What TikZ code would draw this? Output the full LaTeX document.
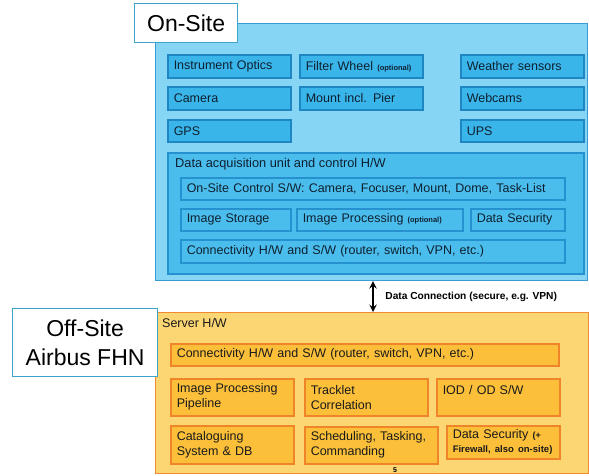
\documentclass[tikz,border=0pt]{standalone}
\usepackage{fontspec}
\setmainfont{Liberation Sans}
\usetikzlibrary{arrows, positioning}

\definecolor{sitefill}{HTML}{86D5F5}
\definecolor{siteedge}{HTML}{3A9AD6}
\definecolor{unitfill}{HTML}{3AB5EA}
\definecolor{unitedge}{HTML}{1E86C2}
\definecolor{daqfill}{HTML}{4BBDED}
\definecolor{daqedge}{HTML}{2591CE}
\definecolor{unittext}{HTML}{0E2030}
\definecolor{serverfill}{HTML}{FCD672}
\definecolor{serveredge}{HTML}{F08A32}
\definecolor{taskfill}{HTML}{FBBF3A}
\definecolor{taskedge}{HTML}{EF8428}
\definecolor{tasktext}{HTML}{1A1A1A}
\definecolor{tagedge}{HTML}{3EA3C8}

\tikzstyle{site} = [rectangle, anchor=north west, draw=siteedge, fill=sitefill, line width=1.2pt, inner sep=0pt]
\tikzstyle{server} = [site, draw=serveredge, fill=serverfill]
\tikzstyle{tag} = [rectangle, anchor=north west, draw=tagedge, fill=white, line width=1.2pt, align=center, inner sep=0pt, font=\fontsize{23}{29}\selectfont]
\tikzstyle{unit} = [rectangle, anchor=north west, draw=unitedge, fill=unitfill, line width=1.5pt, inner xsep=6pt, inner ysep=0pt, align=left, text=unittext, font=\fontsize{12.5}{15}\selectfont]
\tikzstyle{daq} = [unit, draw=daqedge, fill=daqfill]
\tikzstyle{task} = [unit, draw=taskedge, fill=taskfill, text=tasktext]
\tikzstyle{arrow} = [line width=2.2pt, <->, >=stealth]

\tikzset{boxsize/.code 2 args={\pgfmathsetmacro\boxtw{#1-12}%
  \tikzset{minimum width=#1pt, minimum height=#2pt, text width=\boxtw pt}}}

\newcommand{\opt}[1]{{\bfseries\fontsize{7.5}{9}\selectfont #1}}

\begin{document}
\begin{tikzpicture}[x=1pt, y=-1pt]
    \useasboundingbox (0,0) rectangle (589,475);

    % on-site hardware
    \node (onsite) [site, minimum width=432pt, minimum height=257pt] at (155,23) {};
    \node (onsitetag) [tag, minimum width=103pt, minimum height=39pt] at (134,3) {On-Site};

    \node (optics) [unit, boxsize={123}{23}] at (167,54) {Instrument Optics};
    \node (camera) [unit, boxsize={123}{23}] at (167,86) {Camera};
    \node (gps) [unit, boxsize={123}{22}] at (167,119) {GPS};
    \node (filter) [unit, boxsize={123}{23}] at (299,54) {Filter Wheel \opt{(optional)}};
    \node (mount) [unit, boxsize={123}{23}] at (299,86) {Mount incl. Pier};
    \node (weather) [unit, boxsize={123}{23}] at (460,54) {Weather sensors};
    \node (webcams) [unit, boxsize={123}{23}] at (460,86) {Webcams};
    \node (ups) [unit, boxsize={123}{22}] at (460,119) {UPS};

    \node (daq) [daq, boxsize={416}{121}] at (167,152) {};
    \node (daqtitle) [anchor=base west, inner sep=0pt, text=unittext, font=\fontsize{12.8}{14}\selectfont] at (175,167) {Data acquisition unit and control H/W};
    \node (control) [daq, boxsize={384}{22}] at (180,177) {On-Site Control S/W: Camera, Focuser, Mount, Dome, Task-List};
    \node (storage) [daq, boxsize={110}{22}] at (180,208) {Image Storage};
    \node (imgproc) [daq, boxsize={166}{22}] at (296,208) {Image Processing \opt{(optional)}};
    \node (security) [daq, boxsize={94}{22}] at (470,208) {Data Security};
    \node (connect) [daq, boxsize={384}{23}] at (180,239) {Connectivity H/W and S/W (router, switch, VPN, etc.)};

    % off-site server
    \node (offsite) [server, minimum width=433pt, minimum height=161pt] at (155,312) {};
    \node (offsitetag) [tag, minimum width=145pt, minimum height=68pt] at (12,308) {Off-Site\\Airbus FHN};
    \node (servertitle) [anchor=base west, inner sep=0pt, text=tasktext, font=\fontsize{12.5}{14}\selectfont] at (162,327) {Server H/W};

    \node (srvconnect) [task, boxsize={388}{22}] at (170,343) {Connectivity H/W and S/W (router, switch, VPN, etc.)};
    \node (pipeline) [task, boxsize={123}{37}] at (170,378) {Image Processing\\Pipeline};
    \node (tracklet) [task, boxsize={123}{37}] at (304,378) {Tracklet\\Correlation};
    \node (iod) [task, boxsize={123}{37}] at (436,378) {IOD / OD S/W\\~};
    \node (catalog) [task, boxsize={123}{38}] at (170,425) {Cataloguing\\System \& DB};
    \node (schedule) [task, boxsize={133}{37}] at (304,426) {Scheduling, Tasking,\\Commanding};
    \node (srvsecurity) [task, boxsize={113}{33}, font=\fontsize{12.5}{14}\selectfont] at (446,425) {Data Security {\bfseries\fontsize{9}{14}\selectfont(+}\\{\bfseries\fontsize{9.5}{14}\selectfont Firewall, also on-site)}};
    \node (pageno) [inner sep=0pt, font=\bfseries\fontsize{7}{8}\selectfont] at (395,470) {5};

    % link between sites
    \coordinate (link) at (373,0);
    \draw [arrow] (link |- onsite.south) -- node[right, xshift=8pt, font=\bfseries\fontsize{10.2}{12}\selectfont] {Data Connection (secure, e.g. VPN)} (link |- offsite.north);
\end{tikzpicture}
\end{document}
